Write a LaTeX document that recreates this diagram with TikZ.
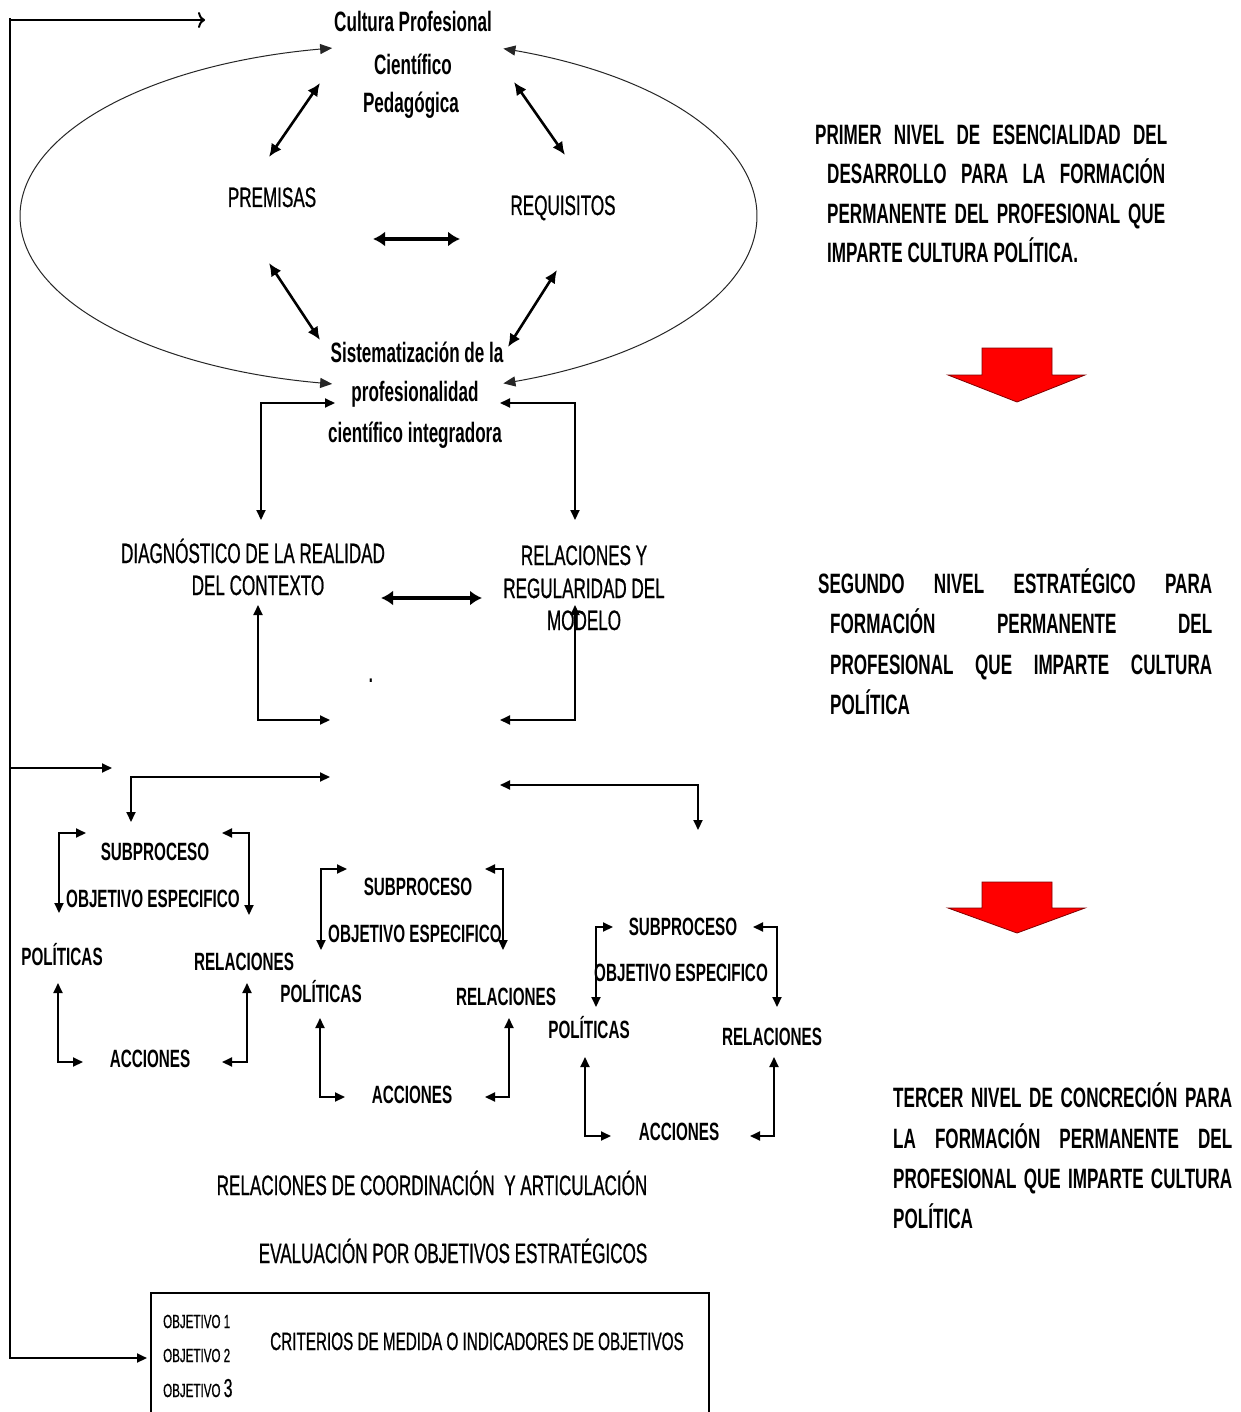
\documentclass[tikz,border=0pt]{standalone}
\usepackage{fontspec}
\setmainfont{Liberation Sans}[FakeStretch=0.61]
\newfontfamily\semibold{Liberation Sans}[FakeStretch=0.61, FakeBold=0.7]
\usetikzlibrary{arrows.meta}
\tikzset{
  lbl/.style={anchor=base, inner sep=0pt, font=\fontsize{28}{34}\selectfont\semibold},
  blbl/.style={anchor=base, inner sep=0pt, font=\fontsize{28}{34}\selectfont\bfseries},
  clbl/.style={anchor=base, inner sep=0pt, font=\fontsize{25}{30}\selectfont\bfseries},
  rlbl/.style={anchor=base west, inner sep=0pt, font=\fontsize{28}{34}\selectfont\bfseries},
  olbl/.style={anchor=base west, inner sep=0pt, font=\fontsize{19}{24}\selectfont\semibold},
  conn/.style={line width=2pt, {Triangle[length=10pt,width=9pt]}-{Triangle[length=10pt,width=9pt]}},
  oneway/.style={line width=2pt, -{Triangle[length=10pt,width=9pt]}},
  diag/.style={line width=2.6pt, {Latex[length=13pt,width=12pt]}-{Latex[length=13pt,width=12pt]}},
  thickdbl/.style={line width=4pt, {Latex[length=12pt,width=15pt]}-{Latex[length=12pt,width=15pt]}},
  arcst/.style={line width=1pt, draw=black!85, {Triangle[length=12pt,width=10pt]}-{Triangle[length=12pt,width=10pt]}},
  redarrow/.style={fill=red, draw=red!50!black, line width=0.8pt},
}
\newcommand\clusterlabels[6]{%
  % #1 prefix, #2 SUB (x,y), #3 OBJ, #4 POL, #5 REL, #6 ACC
  \node[clbl] (#1sub) at #2 {SUBPROCESO};
  \node[clbl] (#1obj) at #3 {OBJETIVO ESPECIFICO};
  \node[clbl] (#1pol) at #4 {POLÍTICAS};
  \node[clbl] (#1rel) at #5 {RELACIONES};
  \node[clbl] (#1acc) at #6 {ACCIONES};
}
\begin{document}
\begin{tikzpicture}[x=1pt, y=-1pt]
\useasboundingbox[fill=white] (0,0) rectangle (1240,1412);

% ---------- top level texts ----------
\node[blbl] (cul1) at (413,32) {Cultura Profesional};
\node[blbl] (cul2) at (413,75) {Científico};
\node[blbl] (cul3) at (411,113) {Pedagógica};
\node[lbl] (prem) at (272,207) {PREMISAS};
\node[lbl] (requ) at (563,215) {REQUISITOS};
\node[blbl] (sis1) at (417,362) {Sistematización de la};
\node[blbl] (sis2) at (415,401) {profesionalidad};
\node[blbl] (sis3) at (415,442) {científico integradora};

% ellipse arcs
\draw[arcst] plot[domain=99:261, samples=90, smooth] ({390+370*cos(\x)},{216-170*sin(\x)});
\draw[arcst] plot[domain=72:-72, samples=90, smooth] ({390+367*cos(\x)},{216-176*sin(\x)});

% diagonal double arrows
\coordinate (d1a) at (320,83);  \coordinate (d1b) at (269,157);
\coordinate (d2a) at (514,82);  \coordinate (d2b) at (565,155);
\coordinate (d3a) at (269,263); \coordinate (d3b) at (320,340);
\coordinate (d4a) at (557,270); \coordinate (d4b) at (508,347);
\draw[diag] (d1a) -- (d1b);
\draw[diag] (d2a) -- (d2b);
\draw[diag] (d3a) -- (d3b);
\draw[diag] (d4a) -- (d4b);
\coordinate (h1a) at (373,239); \coordinate (h1b) at (460,239);
\draw[thickdbl] (h1a) -- (h1b);

% ---------- second level ----------
\node[lbl] (dia1) at (253,563) {DIAGNÓSTICO DE LA REALIDAD};
\node[lbl] (dia2) at (258,595) {DEL CONTEXTO};
\node[lbl] (rel1) at (584,565) {RELACIONES Y};
\node[lbl] (rel2) at (584,598) {REGULARIDAD DEL};
\node[lbl] (rel3) at (584,630) {MODELO};
\node[anchor=base, inner sep=0pt, font=\fontsize{24}{26}\selectfont\bfseries] (dot) at (371,682) {.};

\coordinate (h2a) at (381,598); \coordinate (h2b) at (482,598);
\draw[thickdbl] (h2a) -- (h2b);

\draw[conn] (335,403) -- (261,403) -- (261,520);
\draw[conn] (500,403) -- (575,403) -- (575,520);
\draw[conn] (258,605) -- (258,720) -- (330,720);
\draw[conn] (575,605) -- (575,720) -- (500,720);
\draw[conn] (330,777) -- (131,777) -- (131,822);
\draw[conn] (500,785) -- (698,785) -- (698,830);

% left feedback line
\coordinate (lt) at (10,18); \coordinate (lb) at (10,1359);
\draw[line width=2pt] (lt) -- (lb);
\draw[line width=2pt, -{To[length=7pt,width=16pt]}] (10,20) -- (205,20);
\draw[oneway] (10,768) -- (112,768);
\draw[oneway] (10,1358) -- (147,1358);

% ---------- third level clusters ----------
\clusterlabels{a}{(155,860)}{(153,907)}{(62,965)}{(244,970)}{(150,1067)}
\clusterlabels{b}{(418,895)}{(415,942)}{(321,1002)}{(506,1005)}{(412,1103)}
\clusterlabels{c}{(683,935)}{(681,981)}{(589,1038)}{(772,1045)}{(679,1140)}

\draw[conn] (86,833) -- (59,833) -- (59,913);
\draw[conn] (222,833) -- (249,833) -- (249,915);
\draw[conn] (58,983) -- (58,1062) -- (83,1062);
\draw[conn] (247,983) -- (247,1062) -- (222,1062);

\draw[conn] (347,869) -- (321,869) -- (321,950);
\draw[conn] (485,869) -- (503,869) -- (503,950);
\draw[conn] (320,1018) -- (320,1097) -- (345,1097);
\draw[conn] (509,1018) -- (509,1097) -- (485,1097);

\draw[conn] (613,927) -- (596,927) -- (596,1007);
\draw[conn] (753,927) -- (777,927) -- (777,1007);
\draw[conn] (585,1057) -- (585,1136) -- (611,1136);
\draw[conn] (774,1057) -- (774,1136) -- (750,1136);

% ---------- bottom ----------
\node[lbl] (coord) at (432,1195) {RELACIONES DE COORDINACIÓN \ Y ARTICULACIÓN};
\node[lbl] (eval) at (453,1263) {EVALUACIÓN POR OBJETIVOS ESTRATÉGICOS};
\draw[line width=2pt] (151,1412) -- (151,1293) -- (709,1293) -- (709,1412);
\node[olbl] (ob1) at (163,1328) {OBJETIVO 1};
\node[olbl] (ob2) at (163,1362) {OBJETIVO 2};
\node[olbl] (ob3) at (163,1397) {OBJETIVO\,{\fontsize{26}{28}\selectfont 3}};
\node[anchor=base, inner sep=0pt, font=\fontsize{25}{30}\selectfont\semibold] (crit) at (477,1350) {CRITERIOS DE MEDIDA O INDICADORES DE OBJETIVOS};

% ---------- right column ----------
\node[rlbl] (p1) at (815,145) {\makebox[352pt][s]{PRIMER NIVEL DE ESENCIALIDAD DEL}};
\node[rlbl] (p2) at (827,184) {\makebox[338pt][s]{DESARROLLO PARA LA FORMACIÓN}};
\node[rlbl] (p3) at (827,224) {\makebox[338pt][s]{PERMANENTE DEL PROFESIONAL QUE}};
\node[rlbl] (p4) at (827,263) {IMPARTE CULTURA POLÍTICA.};

\draw[redarrow] (982,348) -- (1052,348) -- (1052,375) -- (1085,375) -- (1017,402) -- (948,375) -- (982,375) -- cycle;

\node[rlbl] (s1) at (818,593) {\makebox[394pt][s]{SEGUNDO NIVEL ESTRATÉGICO PARA}};
\node[rlbl] (s2) at (830,633) {\makebox[382pt][s]{FORMACIÓN PERMANENTE DEL}};
\node[rlbl] (s3) at (830,674) {\makebox[382pt][s]{PROFESIONAL QUE IMPARTE CULTURA}};
\node[rlbl] (s4) at (830,714) {POLÍTICA};

\draw[redarrow] (982,882) -- (1052,882) -- (1052,908) -- (1085,908) -- (1017,933) -- (948,908) -- (982,908) -- cycle;

\node[rlbl] (t1) at (893,1107) {\makebox[339pt][s]{TERCER NIVEL DE CONCRECIÓN PARA}};
\node[rlbl] (t2) at (893,1148) {\makebox[339pt][s]{LA FORMACIÓN PERMANENTE DEL}};
\node[rlbl] (t3) at (893,1188) {\makebox[339pt][s]{PROFESIONAL QUE IMPARTE CULTURA}};
\node[rlbl] (t4) at (893,1228) {POLÍTICA};
\end{tikzpicture}
\end{document}
